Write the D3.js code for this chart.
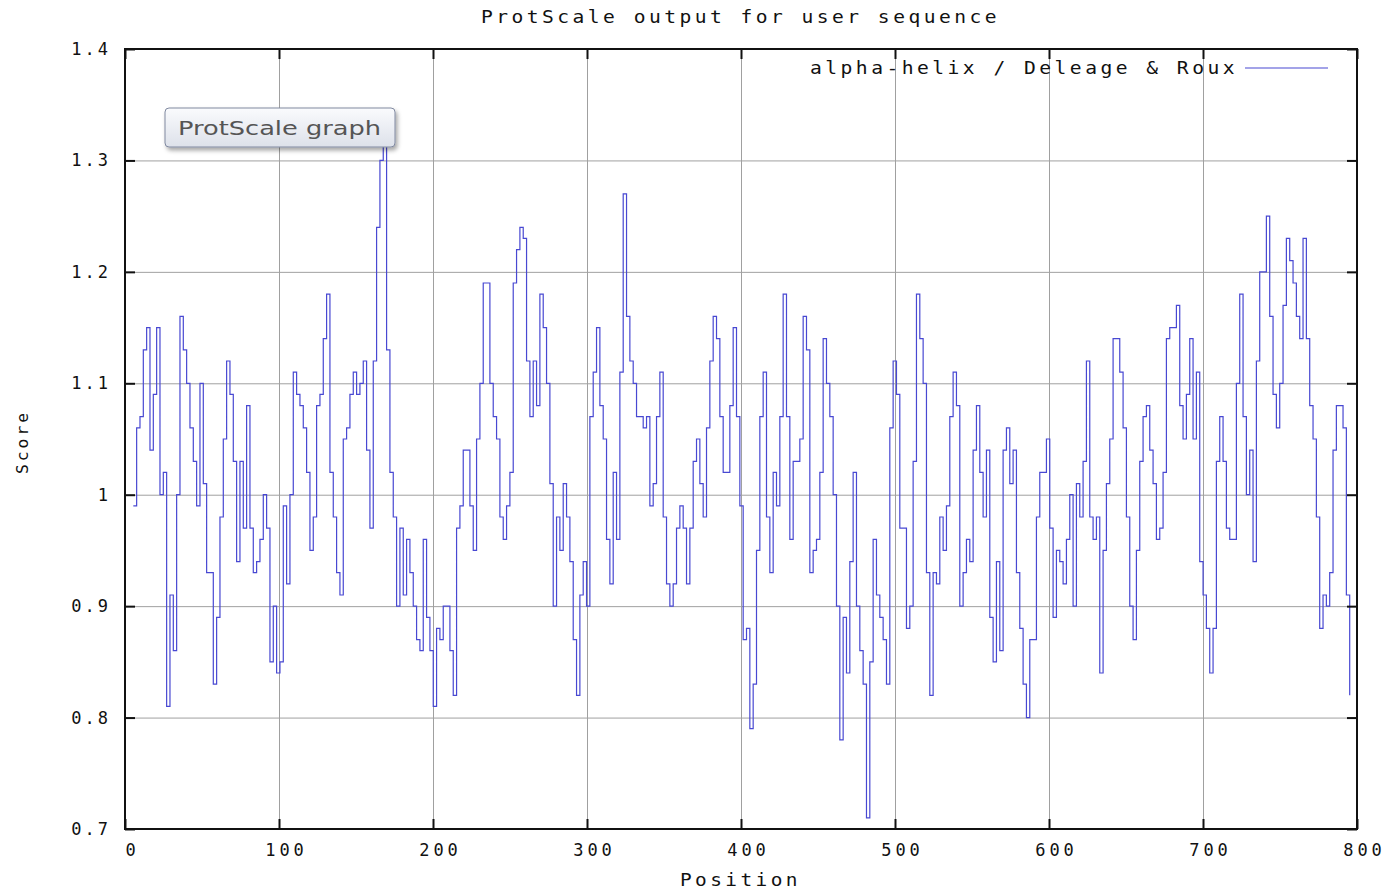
<!DOCTYPE html>
<html>
<head>
<meta charset="utf-8">
<script src="https://cdn.jsdelivr.net/npm/d3@7"></script>
<style>
  body { margin: 0; background: #fff; }
  .gp { font-family: "DejaVu Sans Mono", "Liberation Mono", monospace; fill: #111; }
</style>
</head>
<body>
<svg id="chart" width="1391" height="889"></svg>
<script>
// axis ticks
const xTicks = [0, 100, 200, 300, 400, 500, 600, 700, 800]
const yTicks = [0.7, 0.8, 0.9, 1.0, 1.1, 1.2, 1.3, 1.4]

// sampled positions: first residue window centre and spacing between readings
const firstPosition = 5.4
const positionStep = 2.164

// scores, one array per ~100 residues
const scores000 = [0.99,1.06,1.07,1.13,1.15,1.04,1.09,1.15,1.00,1.02,
  0.81,0.91,0.86,1.00,1.16,1.13,1.10,1.06,1.03,0.99,
  1.10,1.01,0.93,0.93,0.83,0.89,0.98,1.05,1.12,1.09,
  1.03,0.94,1.03,0.97,1.08,0.97,0.93,0.94,0.96,1.00,
  0.97,0.85,0.90,0.84,0.85]
const scores100 = [0.99,0.92,1.00,1.11,1.09,1.08,1.06,1.02,0.95,0.98,
  1.08,1.09,1.14,1.18,1.02,0.98,0.93,0.91,1.05,1.06,
  1.09,1.11,1.09,1.10,1.12,1.04,0.97,1.12,1.24,1.30,
  1.32,1.13,1.02,0.98,0.90,0.97,0.91,0.96,0.93,0.90,
  0.87,0.86,0.96,0.89,0.86,0.81]
const scores200 = [0.88,0.87,0.90,0.90,0.86,0.82,0.97,0.99,1.04,1.04,
  0.99,0.95,1.05,1.10,1.19,1.19,1.10,1.07,1.05,0.98,
  0.96,0.99,1.02,1.19,1.22,1.24,1.23,1.12,1.07,1.12,
  1.08,1.18,1.15,1.10,1.01,0.90,0.98,0.95,1.01,0.98,
  0.94,0.87,0.82,0.91,0.94,0.90,1.07]
const scores300 = [1.11,1.15,1.08,1.05,0.96,0.92,1.02,0.96,1.11,1.27,
  1.16,1.12,1.10,1.07,1.07,1.06,1.07,0.99,1.01,1.07,
  1.11,0.98,0.92,0.90,0.92,0.97,0.99,0.97,0.92,0.97,
  1.03,1.05,1.01,0.98,1.06,1.12,1.16,1.14,1.07,1.02,
  1.02,1.08,1.15,1.07,0.99,0.87]
const scores400 = [0.88,0.79,0.83,0.95,1.07,1.11,0.98,0.93,1.02,0.99,
  1.07,1.18,1.07,0.96,1.03,1.03,1.05,1.16,1.13,0.93,
  0.95,0.96,1.02,1.14,1.10,1.07,1.00,0.90,0.78,0.89,
  0.84,0.94,1.02,0.90,0.86,0.83,0.71,0.85,0.96,0.91,
  0.89,0.87,0.83,1.06,1.12,1.09,0.97]
const scores500 = [0.97,0.88,0.90,1.03,1.18,1.14,1.10,0.93,0.82,0.93,
  0.92,0.98,0.95,0.99,1.07,1.11,1.08,0.90,0.93,0.96,
  0.94,1.04,1.08,1.02,0.98,1.04,0.89,0.85,0.94,0.86,
  1.04,1.06,1.01,1.04,0.93,0.88,0.83,0.80,0.87,0.87,
  0.98,1.02,1.02,1.05,0.97,0.89]
const scores600 = [0.95,0.94,0.92,0.96,1.00,0.90,1.01,0.98,1.03,1.12,
  0.98,0.96,0.98,0.84,0.95,1.01,1.05,1.14,1.14,1.11,
  1.06,0.98,0.90,0.87,0.95,1.03,1.07,1.08,1.04,1.01,
  0.96,0.97,1.02,1.14,1.15,1.15,1.17,1.08,1.05,1.09,
  1.14,1.05,1.11,0.94,0.91,0.88,0.84]
const scores700 = [0.88,1.03,1.07,1.03,0.97,0.96,0.96,1.10,1.18,1.07,
  1.00,1.04,0.94,1.12,1.20,1.20,1.25,1.16,1.09,1.06,
  1.10,1.17,1.23,1.21,1.19,1.16,1.14,1.23,1.14,1.08,
  1.05,0.98,0.88,0.91,0.90,0.93,1.04,1.08,1.08,1.06,
  0.91,0.82]

const titleText = 'ProtScale output for user sequence'
const legendText = 'alpha-helix / Deleage & Roux'
const lineColor = '#4848d2'

const scores = [].concat(scores000, scores100, scores200, scores300,
  scores400, scores500, scores600, scores700)
const points = scores.map((s, i) => ({pos: firstPosition + i * positionStep, score: s}))

const svg = d3.select('#chart')
const plotLeft = 125, plotRight = 1357, plotTop = 49, plotBottom = 829

const x = d3.scaleLinear().domain([0, 800]).range([plotLeft, plotRight])
const y = d3.scaleLinear().domain([0.7, 1.4]).range([plotBottom, plotTop])

// grid lines
const grid = svg.append('g')
grid.append('g')
    .attr('transform', `translate(0,${plotBottom})`)
    .call(d3.axisBottom(x).tickValues(xTicks).tickSize(-(plotBottom - plotTop)).tickFormat(''))
grid.append('g')
    .attr('transform', `translate(${plotLeft},0)`)
    .call(d3.axisLeft(y).tickValues(yTicks).tickSize(-(plotRight - plotLeft)).tickFormat(''))
grid.selectAll('.domain').remove()
grid.selectAll('line').attr('stroke', '#a0a0a0').attr('stroke-width', 1)

// data line
svg.append('path')
    .datum(points)
    .attr('fill', 'none')
    .attr('stroke', lineColor)
    .attr('stroke-width', 1.2)
    .attr('d', d3.line().x(d => x(d.pos)).y(d => y(d.score)).curve(d3.curveStepAfter))

// inward tick marks + labels
const ticks = svg.append('g')
const xAxis = ticks.append('g')
    .attr('transform', `translate(0,${plotBottom})`)
    .call(d3.axisBottom(x).tickValues(xTicks).tickSize(-10).tickPadding(22).tickFormat(d3.format('d')))
const yAxis = ticks.append('g')
    .attr('transform', `translate(${plotLeft},0)`)
    .call(d3.axisLeft(y).tickValues(yTicks).tickSize(-10).tickPadding(17).tickFormat(d => +d.toFixed(1)))
ticks.append('g')
    .attr('transform', `translate(0,${plotTop})`)
    .call(d3.axisTop(x).tickValues(xTicks).tickSize(-10).tickFormat(''))
ticks.append('g')
    .attr('transform', `translate(${plotRight},0)`)
    .call(d3.axisRight(y).tickValues(yTicks).tickSize(-10).tickFormat(''))

ticks.selectAll('.domain').remove()
ticks.selectAll('.tick line').attr('stroke', '#111').attr('stroke-width', 2)
ticks.selectAll('g').attr('font-family', null)

xAxis.selectAll('text')
    .attr('class', 'gp').attr('font-size', 17).style('letter-spacing', '4px')
    .attr('dx', 7).attr('dy', '0.32em')
yAxis.selectAll('text')
    .attr('class', 'gp').attr('font-size', 17).style('letter-spacing', '3px')
    .attr('dx', 3)

// frame
svg.append('rect')
    .attr('x', plotLeft).attr('y', plotTop)
    .attr('width', plotRight - plotLeft).attr('height', plotBottom - plotTop)
    .attr('fill', 'none').attr('stroke', '#111').attr('stroke-width', 2)

// title and axis names
svg.append('text').attr('class', 'gp')
    .attr('x', 481).attr('y', 23).style('letter-spacing', '3px')
    .attr('font-size', 17).attr('textLength', 519).attr('lengthAdjust', 'spacingAndGlyphs')
    .text(titleText)
svg.append('text').attr('class', 'gp')
    .attr('x', 680).attr('y', 886).style('letter-spacing', '3px')
    .attr('font-size', 17).attr('textLength', 121).attr('lengthAdjust', 'spacingAndGlyphs')
    .text('Position')
svg.append('text').attr('class', 'gp')
    .attr('transform', 'translate(28,474) rotate(-90)').style('letter-spacing', '3px')
    .attr('font-size', 16).attr('textLength', 64).attr('lengthAdjust', 'spacingAndGlyphs')
    .text('Score')

// legend
svg.append('text').attr('class', 'gp')
    .attr('x', 810).attr('y', 74).style('letter-spacing', '3px')
    .attr('font-size', 17).attr('textLength', 428).attr('lengthAdjust', 'spacingAndGlyphs')
    .text(legendText)
svg.append('line')
    .attr('x1', 1245).attr('x2', 1328).attr('y1', 68).attr('y2', 68)
    .attr('stroke', lineColor).attr('stroke-width', 1.2)

// "ProtScale graph" caption box
const defs = svg.append('defs')
const grad = defs.append('linearGradient').attr('id', 'btnGrad')
    .attr('x1', 0).attr('y1', 0).attr('x2', 0).attr('y2', 1)
grad.append('stop').attr('offset', '0%').attr('stop-color', '#fafbfd')
grad.append('stop').attr('offset', '100%').attr('stop-color', '#dde1ea')
const shadow = defs.append('filter').attr('id', 'btnShadow')
    .attr('x', '-10%').attr('y', '-20%').attr('width', '130%').attr('height', '160%')
shadow.append('feDropShadow').attr('dx', 2).attr('dy', 3).attr('stdDeviation', 2)
    .attr('flood-color', '#000').attr('flood-opacity', 0.35)

const btn = svg.append('g').attr('transform', 'translate(165,108)')
btn.append('rect')
    .attr('width', 230).attr('height', 39).attr('rx', 4)
    .attr('fill', 'url(#btnGrad)').attr('stroke', '#8089a0').attr('stroke-width', 1)
    .attr('filter', 'url(#btnShadow)')
btn.append('text')
    .attr('x', 13).attr('y', 27)
    .attr('font-family', '"DejaVu Sans", Verdana, sans-serif').attr('font-size', 20)
    .attr('fill', '#555').attr('textLength', 203).attr('lengthAdjust', 'spacingAndGlyphs')
    .text('ProtScale graph')
</script>
</body>
</html>
